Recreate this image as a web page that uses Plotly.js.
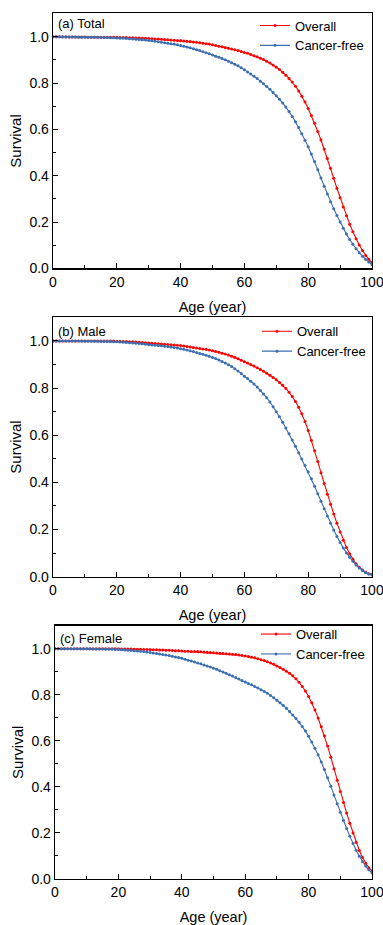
<!DOCTYPE html>
<html>
<head>
<meta charset="utf-8">
<script src="https://cdn.plot.ly/plotly-3.0.1.min.js"></script>
<style>
html,body{margin:0;padding:0;background:#fff;}
#chart{width:383px;height:925px;}
</style>
</head>
<body>
<div id="chart"></div>
<script>
// ---- data ----
var ages = [0,1,2,3,4,5,6,7,8,9,10,11,12,13,14,15,16,17,18,19,20,21,22,23,24,25,26,27,28,29,30,
31,32,33,34,35,36,37,38,39,40,41,42,43,44,45,46,47,48,49,50,51,52,53,54,55,56,57,58,59,60,
61,62,63,64,65,66,67,68,69,70,71,72,73,74,75,76,77,78,79,80,81,82,83,84,85,86,87,88,89,90,
91,92,93,94,95,96,97,98,99,100];

var totalOverall = [1.000,1.000,1.000,1.000,1.000,0.999,0.999,0.999,0.999,0.999,0.999,
0.998,0.998,0.998,0.998,0.998,0.997,0.997,0.997,0.997,0.997,
0.996,0.996,0.996,0.995,0.995,0.994,0.994,0.993,0.993,0.992,
0.991,0.990,0.990,0.989,0.988,0.987,0.986,0.985,0.984,0.983,
0.981,0.980,0.979,0.977,0.976,0.974,0.972,0.970,0.968,0.965,
0.962,0.959,0.956,0.953,0.950,0.947,0.944,0.940,0.936,0.932,
0.928,0.923,0.918,0.913,0.907,0.901,0.894,0.886,0.878,0.868,
0.858,0.847,0.834,0.820,0.804,0.786,0.766,0.743,0.718,0.690,
0.659,0.626,0.591,0.554,0.515,0.474,0.432,0.389,0.346,0.305,
0.265,0.227,0.191,0.158,0.128,0.101,0.077,0.056,0.039,0.024];

var totalCancerFree = [1.000,1.000,1.000,0.999,0.999,0.999,0.999,0.999,0.998,0.998,0.998,
0.998,0.997,0.997,0.997,0.996,0.996,0.996,0.995,0.995,0.994,
0.993,0.993,0.992,0.991,0.990,0.989,0.988,0.987,0.986,0.984,
0.982,0.980,0.978,0.976,0.974,0.972,0.970,0.968,0.965,0.962,
0.959,0.955,0.952,0.948,0.944,0.940,0.935,0.931,0.926,0.921,
0.916,0.911,0.906,0.900,0.894,0.888,0.881,0.874,0.866,0.857,
0.848,0.839,0.829,0.819,0.808,0.797,0.785,0.773,0.759,0.745,
0.730,0.714,0.696,0.677,0.656,0.633,0.608,0.581,0.553,0.525,
0.494,0.461,0.426,0.390,0.355,0.321,0.288,0.257,0.228,0.200,
0.173,0.148,0.125,0.104,0.085,0.068,0.053,0.040,0.028,0.017];

var maleOverall = [1.000,1.000,1.000,1.000,1.000,1.000,1.000,1.000,0.999,0.999,0.999,
0.999,0.999,0.999,0.999,0.999,0.999,0.999,0.999,0.999,0.998,
0.998,0.997,0.997,0.996,0.996,0.995,0.994,0.993,0.992,0.991,
0.990,0.989,0.988,0.987,0.986,0.985,0.984,0.983,0.982,0.980,
0.978,0.976,0.974,0.972,0.970,0.968,0.966,0.964,0.961,0.958,
0.955,0.952,0.948,0.944,0.940,0.935,0.930,0.924,0.918,0.912,
0.906,0.900,0.893,0.886,0.879,0.871,0.863,0.854,0.845,0.835,
0.824,0.812,0.798,0.782,0.764,0.743,0.719,0.691,0.658,0.620,
0.578,0.534,0.488,0.441,0.395,0.350,0.307,0.266,0.227,0.190,
0.155,0.124,0.097,0.074,0.055,0.040,0.028,0.019,0.013,0.010];

var maleCancerFree = [1.000,1.000,1.000,1.000,0.999,0.999,0.999,0.999,0.999,0.999,0.998,
0.998,0.998,0.998,0.998,0.997,0.997,0.997,0.997,0.996,0.996,
0.995,0.994,0.993,0.992,0.991,0.990,0.989,0.988,0.986,0.984,
0.983,0.982,0.980,0.979,0.977,0.976,0.974,0.972,0.970,0.967,
0.964,0.961,0.958,0.955,0.951,0.947,0.943,0.939,0.935,0.930,
0.925,0.919,0.913,0.906,0.899,0.891,0.882,0.872,0.862,0.850,
0.840,0.829,0.817,0.804,0.790,0.775,0.759,0.741,0.721,0.700,
0.678,0.655,0.631,0.606,0.580,0.553,0.526,0.499,0.472,0.445,
0.415,0.384,0.352,0.320,0.288,0.257,0.227,0.198,0.171,0.145,
0.122,0.101,0.082,0.065,0.050,0.037,0.026,0.017,0.011,0.007];

var femaleOverall = [1.000,1.000,1.000,1.000,1.000,1.000,1.000,1.000,1.000,1.000,0.999,
0.999,0.999,0.999,0.999,0.999,0.999,0.999,0.999,0.999,0.999,
0.998,0.998,0.998,0.998,0.997,0.997,0.997,0.996,0.996,0.996,
0.995,0.995,0.994,0.994,0.993,0.993,0.992,0.991,0.991,0.990,
0.989,0.989,0.988,0.987,0.987,0.986,0.985,0.984,0.983,0.982,
0.981,0.980,0.979,0.978,0.977,0.976,0.974,0.972,0.970,0.968,
0.966,0.963,0.960,0.956,0.952,0.948,0.943,0.938,0.932,0.925,
0.918,0.910,0.902,0.893,0.882,0.869,0.854,0.836,0.816,0.792,
0.765,0.734,0.699,0.661,0.622,0.577,0.529,0.479,0.429,0.380,
0.332,0.286,0.242,0.200,0.160,0.124,0.093,0.068,0.049,0.035];

var femaleCancerFree = [1.000,1.000,1.000,1.000,1.000,0.999,0.999,0.999,0.999,0.999,0.999,
0.999,0.998,0.998,0.998,0.998,0.997,0.997,0.997,0.996,0.996,
0.995,0.994,0.993,0.992,0.991,0.990,0.989,0.987,0.985,0.983,
0.981,0.979,0.977,0.975,0.972,0.970,0.967,0.964,0.961,0.958,
0.954,0.950,0.946,0.942,0.938,0.934,0.929,0.925,0.920,0.915,
0.910,0.904,0.899,0.893,0.887,0.881,0.875,0.868,0.862,0.855,
0.849,0.843,0.836,0.829,0.822,0.814,0.806,0.797,0.787,0.776,
0.765,0.753,0.741,0.727,0.712,0.697,0.680,0.662,0.642,0.620,
0.595,0.568,0.539,0.508,0.475,0.440,0.403,0.365,0.327,0.290,
0.254,0.219,0.186,0.154,0.125,0.099,0.076,0.056,0.040,0.027];

var panelLabels = ["(a) Total", "(b) Male", "(c) Female"];
var seriesNames = ["Overall", "Cancer-free"];
var xTitle = "Age (year)";
var yTitle = "Survival";
var xTickVals = [0,20,40,60,80,100];
var yTickVals = [0.0,0.2,0.4,0.6,0.8,1.0];

// ---- styling ----
var FONT = 'Arial, "Liberation Sans", sans-serif';
var RED = '#ff0000', BLUE = '#3a6eb0';
var W = 383, H = 925;
var M = {l:53, r:11, t:11, b:46};
function py2paper(py){ return (H - M.b - py) / (H - M.t - M.b); }
function px2paper(px){ return (px - M.l) / (W - M.l - M.r); }

var panels = [
  {ov: totalOverall,  cf: totalCancerFree,  top: 11.5, bot: 267, left: 53, legTop: 8.5, legX: 255, labY: 22},
  {ov: maleOverall,   cf: maleCancerFree,   top: 316,  bot: 576, left: 53, legTop: 315, legX: 257, labY: 330},
  {ov: femaleOverall, cf: femaleCancerFree, top: 625,  bot: 879, left: 55, legTop: 618.5, legX: 256, labY: 638}
];

var traces = [];
var layout = {
  width: W, height: H, margin: M,
  paper_bgcolor: '#fff', plot_bgcolor: '#fff',
  font: {family: FONT, size: 14, color: '#000'},
  showlegend: true,
  annotations: []
};

panels.forEach(function(p, i){
  var sfx = i === 0 ? '' : String(i + 1);
  var xa = 'x' + sfx, ya = 'y' + sfx;
  var legName = i === 0 ? 'legend' : 'legend' + (i + 1);
  var common = {x: ages, xaxis: xa, yaxis: ya, mode: 'lines+markers', legend: legName, hoverinfo: 'skip'};
  traces.push(Object.assign({}, common, {y: p.ov, name: seriesNames[0],
    line: {color: RED, width: 1.1}, marker: {color: RED, size: 3, symbol: 'circle'}}));
  traces.push(Object.assign({}, common, {y: p.cf, name: seriesNames[1],
    line: {color: BLUE, width: 1.1}, marker: {color: BLUE, size: 3, symbol: 'circle'}}));

  layout['xaxis' + sfx] = {
    domain: [px2paper(p.left), 1], anchor: ya, range: [0, 100],
    tickvals: xTickVals, ticks: 'inside', ticklen: 5, tickwidth: 1, tickcolor: '#000',
    minor: {ticks: 'inside', ticklen: 3, tickwidth: 1, tickcolor: '#000', dtick: 10, showgrid: false},
    showline: true, linecolor: '#000', linewidth: 1.3, mirror: true,
    showgrid: false, zeroline: false, fixedrange: true,
    ticklabeloverflow: 'allow',
    tickfont: {family: FONT, size: 14, color: '#000'},
    title: {text: xTitle, font: {family: FONT, size: 14.5, color: '#000'}, standoff: 13},
    automargin: false
  };
  layout['yaxis' + sfx] = {
    domain: [py2paper(p.bot), py2paper(p.top)], anchor: xa, range: [0, 1.1],
    tickvals: yTickVals, tickformat: '.1f', ticks: 'inside', ticklen: 5, tickwidth: 1, tickcolor: '#000',
    minor: {ticks: 'inside', ticklen: 3, tickwidth: 1, tickcolor: '#000', dtick: 0.1, tick0: 0, showgrid: false},
    showline: true, linecolor: '#000', linewidth: 1.3, mirror: true,
    showgrid: false, zeroline: false, fixedrange: true,
    ticklabeloverflow: 'allow',
    tickfont: {family: FONT, size: 14, color: '#000'},
    title: {text: yTitle, font: {family: FONT, size: 15, color: '#000'}, standoff: 4},
    automargin: false
  };
  layout[legName] = {
    x: px2paper(p.legX), xanchor: 'left', xref: 'paper',
    y: py2paper(p.legTop), yanchor: 'top', yref: 'paper',
    bgcolor: 'rgba(0,0,0,0)', borderwidth: 0,
    font: {family: FONT, size: 13, color: '#000'},
    tracegroupgap: 0, itemwidth: 30
  };
  layout.annotations.push({
    text: panelLabels[i], xref: xa + ' domain', yref: ya + ' domain',
    x: 0.01, y: (p.bot - p.labY) / (p.bot - p.top), xanchor: 'left', yanchor: 'middle',
    showarrow: false, font: {family: FONT, size: 13, color: '#000'}
  });
});

Plotly.newPlot('chart', traces, layout, {displayModeBar: false, staticPlot: true});
</script>
</body>
</html>
